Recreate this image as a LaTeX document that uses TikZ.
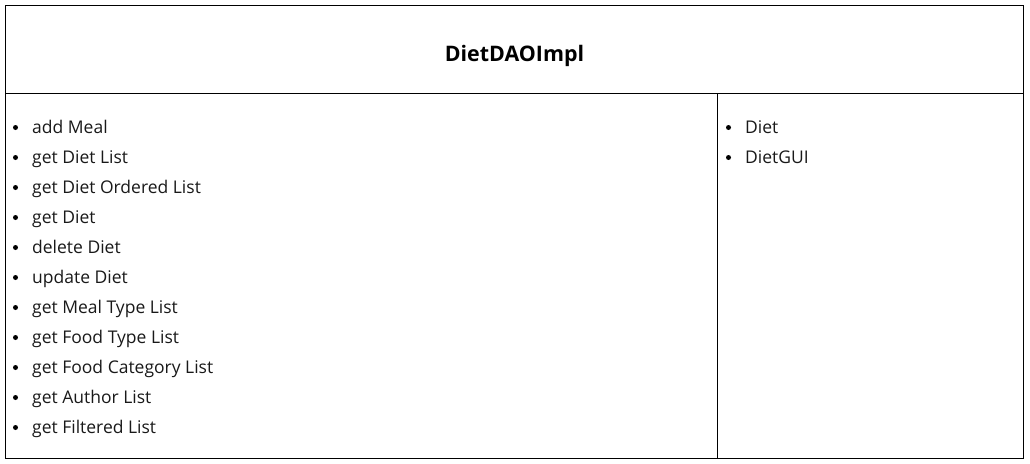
\documentclass[tikz,border=0pt]{standalone}
\usepackage{fontspec}
\setmainfont{Open Sans}
\begin{document}
\begin{tikzpicture}[x=1pt,y=-1pt,
  item/.style={anchor=base west,inner sep=0pt,font=\fontsize{17.5}{20}\selectfont,text=black!90},
  bul/.style={circle,fill=black,inner sep=0pt,minimum size=5pt}]
\useasboundingbox (0,0) rectangle (1030,463);
\draw[line width=1pt] (5.5,5.5) rectangle (1023.5,458.5);
\draw[line width=1pt] (5.5,93.5) -- (1023.5,93.5);
\draw[line width=1pt] (717.5,93.5) -- (717.5,458.5);
\node[anchor=base,inner sep=0pt,font=\fontsize{21.4}{25}\selectfont\bfseries] (title) at (514.5,61) {DietDAOImpl};
\foreach \t [count=\i] in {add Meal,get Diet List,get Diet Ordered List,get Diet,delete Diet,update Diet,get Meal Type List,get Food Type List,get Food Category List,get Author List,get Filtered List}{
  \node[item] (l\i) at (32,{133+30*(\i-1)}) {\t};
  \node[bul] (lb\i) at (15.5,{127.5+30*(\i-1)}) {};
}
\foreach \t [count=\i] in {Diet,DietGUI}{
  \node[item] (r\i) at (745,{133+30*(\i-1)}) {\t};
  \node[bul] (rb\i) at (728.5,{127.5+30*(\i-1)}) {};
}
\end{tikzpicture}
\end{document}
